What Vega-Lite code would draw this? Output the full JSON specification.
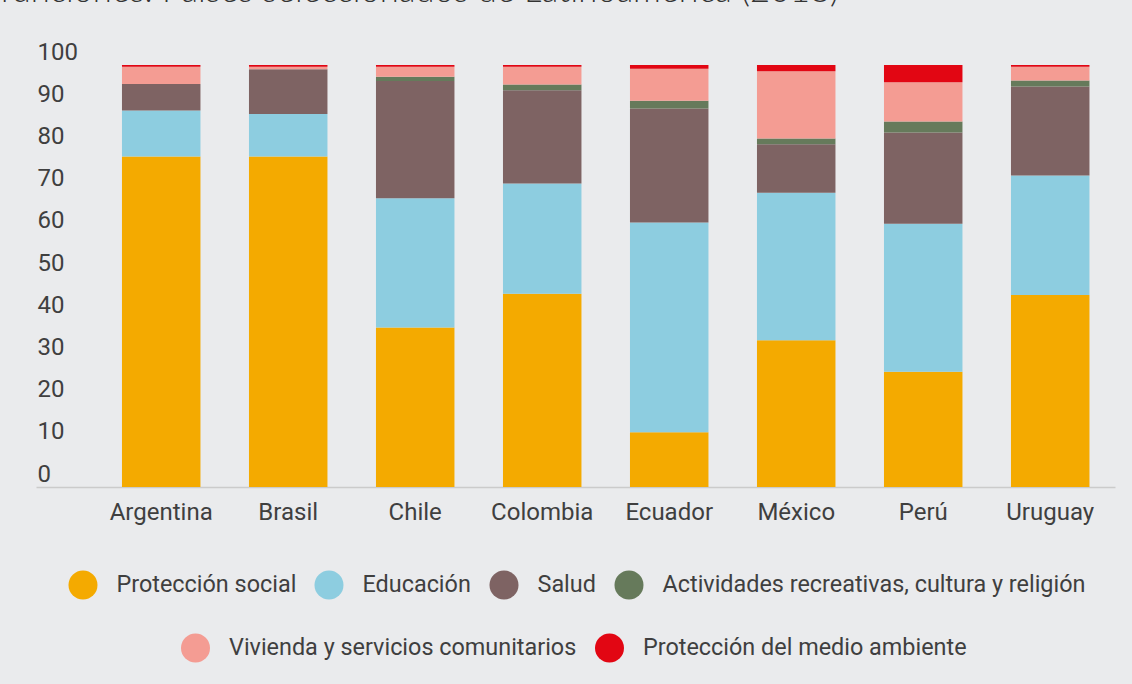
{
  "$schema": "https://vega.github.io/schema/vega-lite/v6.json",
  "autosize": {"type": "none"},
  "width": 1079,
  "height": 422,
  "padding": {"left": 36, "top": 65, "right": 17, "bottom": 197},
  "background": "#EAEBED",
  "title": {
    "text": "funciones. Países seleccionados de Latinoamérica (2018)",
    "anchor": "start",
    "frame": "group",
    "offset": 31,
    "dx": -36,
    "font": "Lato",
    "fontWeight": 300,
    "fontSize": 34.5,
    "color": "#333333"
  },
  "config": {"view": {"stroke": null}, "font": "Roboto"},
  "data": {
    "values": [
      {"pais": "Argentina", "cat": "Protección social", "orden": 1, "valor": 78.3},
      {"pais": "Argentina", "cat": "Educación", "orden": 2, "valor": 10.9},
      {"pais": "Argentina", "cat": "Salud", "orden": 3, "valor": 6.3},
      {"pais": "Argentina", "cat": "Actividades recreativas, cultura y religión", "orden": 4, "valor": 0},
      {"pais": "Argentina", "cat": "Vivienda y servicios comunitarios", "orden": 5, "valor": 4.1},
      {"pais": "Argentina", "cat": "Protección del medio ambiente", "orden": 6, "valor": 0.4},
      {"pais": "Brasil", "cat": "Protección social", "orden": 1, "valor": 78.3},
      {"pais": "Brasil", "cat": "Educación", "orden": 2, "valor": 10.1},
      {"pais": "Brasil", "cat": "Salud", "orden": 3, "valor": 10.6},
      {"pais": "Brasil", "cat": "Actividades recreativas, cultura y religión", "orden": 4, "valor": 0},
      {"pais": "Brasil", "cat": "Vivienda y servicios comunitarios", "orden": 5, "valor": 0.6},
      {"pais": "Brasil", "cat": "Protección del medio ambiente", "orden": 6, "valor": 0.4},
      {"pais": "Chile", "cat": "Protección social", "orden": 1, "valor": 37.8},
      {"pais": "Chile", "cat": "Educación", "orden": 2, "valor": 30.6},
      {"pais": "Chile", "cat": "Salud", "orden": 3, "valor": 27.8},
      {"pais": "Chile", "cat": "Actividades recreativas, cultura y religión", "orden": 4, "valor": 1.0},
      {"pais": "Chile", "cat": "Vivienda y servicios comunitarios", "orden": 5, "valor": 2.4},
      {"pais": "Chile", "cat": "Protección del medio ambiente", "orden": 6, "valor": 0.4},
      {"pais": "Colombia", "cat": "Protección social", "orden": 1, "valor": 45.8},
      {"pais": "Colombia", "cat": "Educación", "orden": 2, "valor": 26.1},
      {"pais": "Colombia", "cat": "Salud", "orden": 3, "valor": 22.1},
      {"pais": "Colombia", "cat": "Actividades recreativas, cultura y religión", "orden": 4, "valor": 1.4},
      {"pais": "Colombia", "cat": "Vivienda y servicios comunitarios", "orden": 5, "valor": 4.2},
      {"pais": "Colombia", "cat": "Protección del medio ambiente", "orden": 6, "valor": 0.4},
      {"pais": "Ecuador", "cat": "Protección social", "orden": 1, "valor": 13.0},
      {"pais": "Ecuador", "cat": "Educación", "orden": 2, "valor": 49.7},
      {"pais": "Ecuador", "cat": "Salud", "orden": 3, "valor": 27.0},
      {"pais": "Ecuador", "cat": "Actividades recreativas, cultura y religión", "orden": 4, "valor": 1.8},
      {"pais": "Ecuador", "cat": "Vivienda y servicios comunitarios", "orden": 5, "valor": 7.6},
      {"pais": "Ecuador", "cat": "Protección del medio ambiente", "orden": 6, "valor": 0.9},
      {"pais": "México", "cat": "Protección social", "orden": 1, "valor": 34.8},
      {"pais": "México", "cat": "Educación", "orden": 2, "valor": 34.9},
      {"pais": "México", "cat": "Salud", "orden": 3, "valor": 11.5},
      {"pais": "México", "cat": "Actividades recreativas, cultura y religión", "orden": 4, "valor": 1.4},
      {"pais": "México", "cat": "Vivienda y servicios comunitarios", "orden": 5, "valor": 15.9},
      {"pais": "México", "cat": "Protección del medio ambiente", "orden": 6, "valor": 1.5},
      {"pais": "Perú", "cat": "Protección social", "orden": 1, "valor": 27.3},
      {"pais": "Perú", "cat": "Educación", "orden": 2, "valor": 35.1},
      {"pais": "Perú", "cat": "Salud", "orden": 3, "valor": 21.6},
      {"pais": "Perú", "cat": "Actividades recreativas, cultura y religión", "orden": 4, "valor": 2.6},
      {"pais": "Perú", "cat": "Vivienda y servicios comunitarios", "orden": 5, "valor": 9.3},
      {"pais": "Perú", "cat": "Protección del medio ambiente", "orden": 6, "valor": 4.1},
      {"pais": "Uruguay", "cat": "Protección social", "orden": 1, "valor": 45.5},
      {"pais": "Uruguay", "cat": "Educación", "orden": 2, "valor": 28.3},
      {"pais": "Uruguay", "cat": "Salud", "orden": 3, "valor": 21.1},
      {"pais": "Uruguay", "cat": "Actividades recreativas, cultura y religión", "orden": 4, "valor": 1.4},
      {"pais": "Uruguay", "cat": "Vivienda y servicios comunitarios", "orden": 5, "valor": 3.3},
      {"pais": "Uruguay", "cat": "Protección del medio ambiente", "orden": 6, "valor": 0.4}
    ]
  },
  "layer": [
    {
      "transform": [
        {"filter": "datum.pais === 'Argentina' && datum.orden <= 4"}
      ],
      "mark": {"type": "point", "filled": true, "opacity": 1, "size": 841, "shape": "circle"},
      "encoding": {
        "x": {"field": "pais", "type": "nominal"},
        "y": {"datum": 50},
        "color": {
          "field": "cat",
          "type": "nominal",
          "scale": {
            "domain": ["Protección social", "Educación", "Salud", "Actividades recreativas, cultura y religión"],
            "range": ["#F4AA00", "#8DCDE0", "#7E6363", "#667A5B"]
          },
          "legend": {
            "orient": "none",
            "legendX": 32.5,
            "legendY": 505.5,
            "direction": "horizontal",
            "title": null,
            "padding": 0,
            "symbolType": "circle",
            "symbolSize": 841,
            "symbolStrokeWidth": 0,
            "symbolOpacity": 1,
            "labelFont": "Roboto",
            "labelFontSize": 23.4,
            "labelColor": "#3F3F3F",
            "labelOffset": 19,
            "labelLimit": 800,
            "columnPadding": 18
          }
        }
      }
    },
    {
      "transform": [
        {"filter": "datum.pais === 'Argentina' && datum.orden > 4"}
      ],
      "mark": {"type": "point", "filled": true, "opacity": 1, "size": 841, "shape": "circle"},
      "encoding": {
        "x": {"field": "pais", "type": "nominal"},
        "y": {"datum": 50},
        "color": {
          "field": "cat",
          "type": "nominal",
          "scale": {
            "domain": ["Vivienda y servicios comunitarios", "Protección del medio ambiente"],
            "range": ["#F49C93", "#E20613"]
          },
          "legend": {
            "orient": "none",
            "legendX": 145,
            "legendY": 568.5,
            "direction": "horizontal",
            "title": null,
            "padding": 0,
            "symbolType": "circle",
            "symbolSize": 841,
            "symbolStrokeWidth": 0,
            "symbolOpacity": 1,
            "labelFont": "Roboto",
            "labelFontSize": 23.4,
            "labelColor": "#3F3F3F",
            "labelOffset": 19,
            "labelLimit": 800,
            "columnPadding": 18
          }
        }
      }
    },
    {
      "mark": {"type": "bar"},
      "encoding": {
        "x": {
          "field": "pais",
          "type": "nominal",
          "sort": ["Argentina", "Brasil", "Chile", "Colombia", "Ecuador", "México", "Perú", "Uruguay"],
          "scale": {"paddingInner": 0.382, "paddingOuter": 0.439, "align": 0.771},
          "axis": {
            "title": null,
            "ticks": false,
            "labelAngle": 0,
            "labelAlign": "center",
            "labelBaseline": "top",
            "labelPadding": 13,
            "labelFont": "Roboto",
            "labelFontSize": 24,
            "labelColor": "#3F3F3F",
            "domainColor": "#CBCBCB",
            "domainWidth": 1.5,
            "grid": false
          }
        },
        "y": {
          "field": "valor",
          "type": "quantitative",
          "stack": "zero",
          "scale": {"domain": [0, 100], "nice": false},
          "axis": {
            "title": null,
            "values": [0, 10, 20, 30, 40, 50, 60, 70, 80, 90, 100],
            "ticks": false,
            "tickSize": 0,
            "domain": false,
            "grid": false,
            "labelAlign": "left",
            "labelPadding": -1,
            "labelBaseline": "alphabetic",
            "labelOffset": -6,
            "labelFont": "Roboto",
            "labelFontSize": 24,
            "labelColor": "#3F3F3F"
          }
        },
        "color": {
          "field": "cat",
          "type": "nominal",
          "scale": {
            "domain": ["Protección social", "Educación", "Salud", "Actividades recreativas, cultura y religión", "Vivienda y servicios comunitarios", "Protección del medio ambiente"],
            "range": ["#F4AA00", "#8DCDE0", "#7E6363", "#667A5B", "#F49C93", "#E20613"]
          },
          "legend": null
        },
        "order": {"field": "orden", "type": "quantitative", "sort": "ascending"}
      }
    }
  ],
  "resolve": {"scale": {"color": "independent"}}
}
